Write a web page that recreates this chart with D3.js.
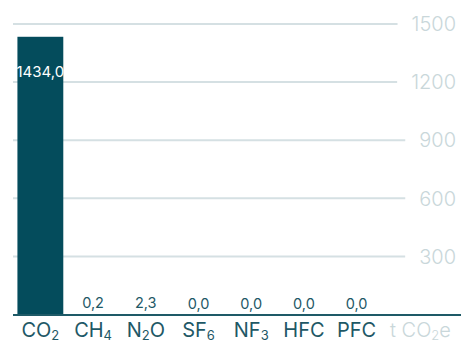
<!DOCTYPE html>
<html><head><meta charset="utf-8">
<script src="https://cdn.jsdelivr.net/npm/d3@7"></script>
<style>
html,body{margin:0;padding:0;background:#fff;}
svg{display:block;font-family:Inter, "DejaVu Sans", sans-serif;}
</style></head>
<body><svg id="c" width="461" height="343"></svg>
<script>
const categories = ["CO2","CH4","N2O","SF6","NF3","HFC","PFC"];
const labelMain = ["CO","CH","N","SF","NF","HFC","PFC"];
const labelSub  = ["2","4","2","6","3","",""];
const labelTail = ["","","O","","","",""];
const values = [1434.0, 0.2, 2.3, 0.0, 0.0, 0.0, 0.0];
const valueLabels = ["1434,0","0,2","2,3","0,0","0,0","0,0","0,0"];
const tickValues = [300, 600, 900, 1200, 1500];
const unitMain = "t CO", unitSub = "2", unitTail = "e";

const svg = d3.select("#c");
const y = d3.scaleLinear().domain([0,1500]).range([314.5, 24]);
const x = d3.scaleBand().domain(categories).range([14, 383]).paddingInner(0.13).paddingOuter(0.065);

const dark = "#044c5c", light = "#c9d7da", grid = "#d5e0e3";

// tick labels + gridlines
const ticks = svg.append("g").selectAll("g").data(tickValues).join("g");
ticks.append("text").attr("x", 456).attr("y", d => y(d)).attr("dy", "0.36em")
  .attr("text-anchor","end").attr("fill", light).attr("font-size", 20).attr("font-weight", 300)
  .text(d => d);
ticks.each(function(d){
  const t = d3.select(this).select("text").node().getBBox();
  d3.select(this).insert("line","text").attr("x1",13).attr("x2", t.x - 14)
    .attr("y1", y(d)).attr("y2", y(d)).attr("stroke", grid).attr("stroke-width", 2);
});

// bars
svg.append("g").selectAll("rect").data(values).join("rect")
  .attr("x", (d,i) => x(categories[i])).attr("width", x.bandwidth())
  .attr("y", d => y(d)).attr("height", d => y(0) - y(d)).attr("fill", dark);

// baseline
svg.append("line").attr("x1",13).attr("x2",461).attr("y1",y(0)+0.5).attr("y2",y(0)+0.5)
  .attr("stroke","#1e5a67").attr("stroke-width",2);

// value labels
svg.append("g").selectAll("text").data(values).join("text")
  .attr("x", (d,i) => x(categories[i]) + x.bandwidth()/2)
  .attr("y", d => d > 100 ? y(d) + 40 : y(d) - 6)
  .attr("text-anchor","middle")
  .attr("font-size", d => d > 100 ? 15 : 14.5)
  .attr("fill", d => d > 100 ? "#ffffff" : "#1e5866")
  .text((d,i) => valueLabels[i]);

// category labels
const cl = svg.append("g").selectAll("text").data(categories).join("text")
  .attr("x", d => x(d) + x.bandwidth()/2).attr("y", 337)
  .attr("text-anchor","middle").attr("fill","#1e5866").attr("font-size", 20);
cl.each(function(d,i){
  const t = d3.select(this);
  t.append("tspan").text(labelMain[i]);
  if (labelSub[i]) t.append("tspan").attr("font-size", 13).attr("dy", 2.5).text(labelSub[i]);
  if (labelTail[i]) t.append("tspan").attr("dy", -2.5).text(labelTail[i]);
});

// unit label
const u = svg.append("text").attr("x", 390).attr("y", 337).attr("fill", light).attr("font-size", 20).attr("font-weight", 300);
u.append("tspan").text(unitMain);
u.append("tspan").attr("font-size", 13).attr("dy", 2.5).text(unitSub);
u.append("tspan").attr("dy", -2.5).text(unitTail);
</script></body></html>
